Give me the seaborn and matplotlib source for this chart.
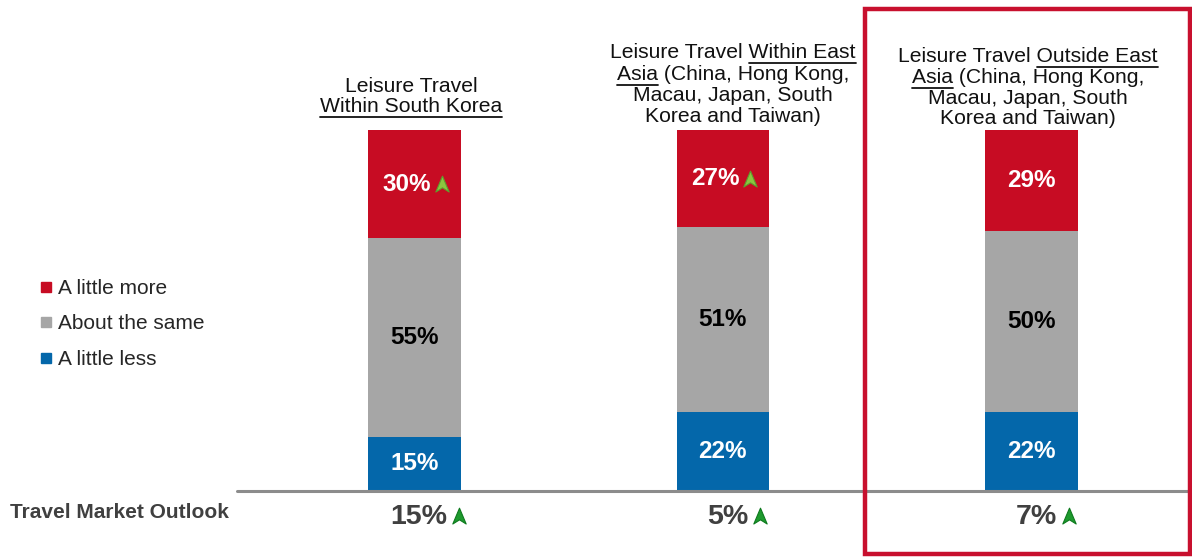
import matplotlib
matplotlib.use('Agg')
import matplotlib.pyplot as plt
import pandas as pd
import seaborn as sns
from matplotlib.path import Path
from matplotlib.lines import Line2D
from matplotlib.patches import Rectangle

# data
markets = ['Within South Korea', 'Within East Asia', 'Outside East Asia']
little_less = [15, 22, 22]
about_same = [55, 51, 50]
little_more = [30, 27, 29]
more_trend_up = [True, True, False]
outlook = [15, 5, 7]
outlook_up = [True, True, True]

legend_labels = ['A little more', 'About the same', 'A little less']

# (text, underlined) pieces per title line
title_lines = [
    [[('Leisure Travel', False)],
     [('Within South Korea', True)]],
    [[('Leisure Travel ', False), ('Within East', True)],
     [('Asia', True), (' (China, Hong Kong,', False)],
     [('Macau, Japan, South', False)],
     [('Korea and Taiwan)', False)]],
    [[('Leisure Travel ', False), ('Outside East', True)],
     [('Asia', True), (' (China, Hong Kong,', False)],
     [('Macau, Japan, South', False)],
     [('Korea and Taiwan)', False)]],
]
title_baselines = [[92.5, 112], [58.5, 80, 101, 122], [62, 83, 104, 124.5]]
title_centers = [411, 733, 1028]

RED = '#C70C23'
GRAY = '#A6A6A6'
BLUE = '#0467AA'
DARK = '#404040'

W, H = 1192, 557

sns.set_theme(style='white')
plt.rcParams['font.family'] = ['Liberation Sans', 'DejaVu Sans']

fig = plt.figure(figsize=(W / 100, H / 100), dpi=100)
ax = fig.add_axes([237 / W, (H - 491) / H, (W - 237) / W, (491 - 130) / H])

df = pd.DataFrame({'market': markets, 'less': little_less,
                   'same': about_same, 'more': little_more})
df['top_same'] = df['less'] + df['same']
df['top_more'] = df['top_same'] + df['more']

# stacked bars: draw the totals first, then the lower parts over them
for col, c in [('top_more', RED), ('top_same', GRAY), ('less', BLUE)]:
    sns.barplot(data=df, x='market', y=col, order=markets, color=c,
                saturation=1, width=0.30, errorbar=None, linewidth=0, ax=ax)

ax.set_ylim(0, 100)
ax.set_xlim(-0.575, 2.521)
ax.set_xlabel('')
ax.set_ylabel('')
ax.set_xticks([])
ax.set_yticks([])
sns.despine(ax=ax, left=True, bottom=True)
ax.axhline(0, color='#8C8C8C', lw=2.2, clip_on=False, zorder=5)

arrow = Path([(0, 1), (0.8, -0.9), (0, -0.4), (-0.8, -0.9), (0, 1)],
             [Path.MOVETO, Path.LINETO, Path.LINETO, Path.LINETO, Path.CLOSEPOLY])


def px(x, y):
    # reference pixel (from top-left) -> figure fraction
    return x / W, 1 - y / H


lab_kw = dict(ha='center', va='center', weight='bold', fontsize=17.5)
seg_texts = []
for i, row in df.iterrows():
    ax.text(i, row['less'] / 2, f"{row['less']}%", color='white', **lab_kw)
    ax.text(i, row['less'] + row['same'] / 2, f"{row['same']}%", color='black', **lab_kw)
    ymid = row['top_same'] + (100 - row['top_same']) / 2
    shift = -0.025 if more_trend_up[i] else 0
    t = ax.text(i + shift, ymid, f"{row['more']}%", color='white', **lab_kw)
    seg_texts.append(t)

bottom_texts = []
for i, v in enumerate(outlook):
    t = ax.text(i + 0.015, -7.3, f'{v}%', ha='center', va='center', weight='bold',
                fontsize=20.5, color=DARK, clip_on=False)
    bottom_texts.append(t)

fig.text(*px(10, 512), 'Travel Market Outlook', ha='left', va='center',
         weight='bold', fontsize=15, color=DARK)

fig.canvas.draw()
rend = fig.canvas.get_renderer()

# trend arrows placed right after their labels
for i, t in enumerate(seg_texts):
    if not more_trend_up[i]:
        continue
    bb = t.get_window_extent(rend)
    fig.add_artist(Line2D([(bb.x1 + 11) / W], [(bb.y0 + bb.y1) / 2 / H], marker=arrow,
                          markersize=12, markerfacecolor='#8CC63F',
                          markeredgecolor='#5E9E2E', markeredgewidth=0.8, ls=''))
for i, t in enumerate(bottom_texts):
    if not outlook_up[i]:
        continue
    bb = t.get_window_extent(rend)
    fig.add_artist(Line2D([(bb.x1 + 12) / W], [(bb.y0 + bb.y1) / 2 / H + 1.5 / H], marker=arrow,
                          markersize=12, markerfacecolor='#1E9A2E',
                          markeredgecolor='#0E7A1E', markeredgewidth=0.8, ls=''))

# column titles with partial underlines
title_kw = dict(fontsize=15.2, color='#111111', va='baseline')
for k, lines in enumerate(title_lines):
    cx = title_centers[k]
    for line, base in zip(lines, title_baselines[k]):
        full = ''.join(p for p, _ in line)
        probe = fig.text(0, 0, full, **title_kw)
        wfull = probe.get_window_extent(rend).width
        probe.remove()
        x0 = cx - wfull / 2
        fig.text(x0 / W, 1 - base / H, full, ha='left', **title_kw)
        pre = ''
        for piece, under in line:
            if under:
                pw = 0
                if pre:
                    p = fig.text(0, 0, pre + 'x', **title_kw)
                    q = fig.text(0, 0, 'x', **title_kw)
                    pw = p.get_window_extent(rend).width - q.get_window_extent(rend).width
                    p.remove()
                    q.remove()
                s = fig.text(0, 0, piece, **title_kw)
                sw = s.get_window_extent(rend).width
                s.remove()
                fig.add_artist(Line2D([(x0 + pw) / W, (x0 + pw + sw) / W],
                                      [1 - (base + 4.5) / H] * 2,
                                      color='#111111', lw=1.3))
            pre += piece

# legend on the left
handles = [Line2D([], [], marker='s', ls='', color=c, markersize=7, label=l)
           for c, l in zip([RED, GRAY, BLUE], legend_labels)]
fig.legend(handles=handles, loc='center left', bbox_to_anchor=px(30, 324),
           frameon=False, fontsize=15, handlelength=0.55, handletextpad=0.3,
           labelspacing=0.8, borderpad=0)

# highlight frame around the third column
fig.add_artist(Rectangle(px(864.5, 553.5), (1189.5 - 864.5) / W, (553.5 - 8.5) / H,
                         fill=False, edgecolor='#C8102E', lw=3.2))

fig.savefig('out.png', dpi=100)
